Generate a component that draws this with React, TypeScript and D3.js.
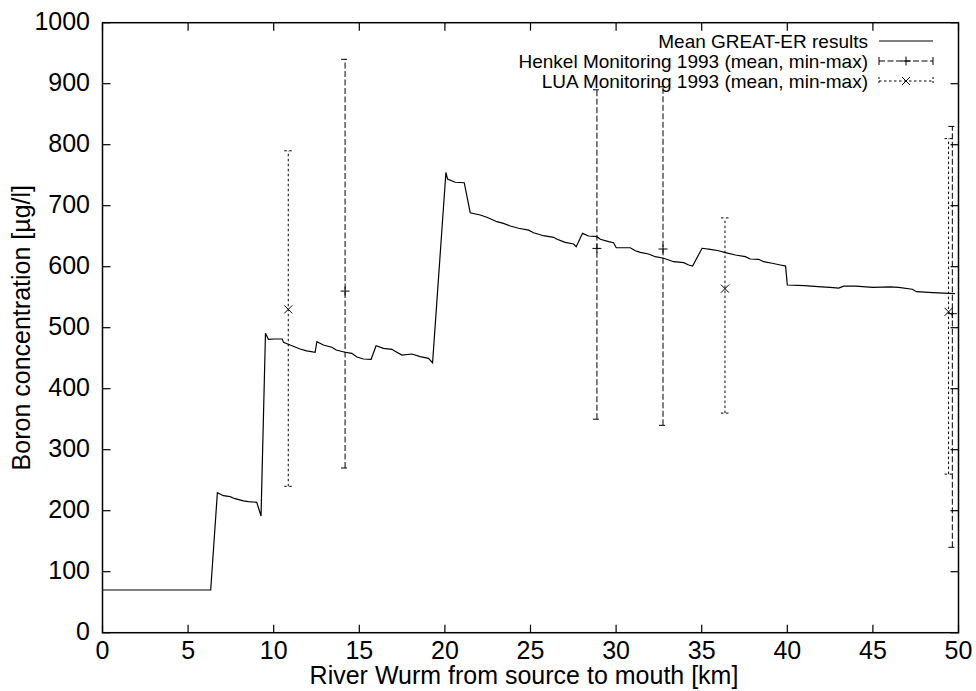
import React from "react";
import * as d3 from "d3";

const W = 976;
const H = 691;

const xTicks = [0, 5, 10, 15, 20, 25, 30, 35, 40, 45, 50];
const yTicks = [0, 100, 200, 300, 400, 500, 600, 700, 800, 900, 1000];

// Mean GREAT-ER results (km, µg/l)
const modelKm = [
  0, 6.32, 6.71, 7.06, 7.45, 7.74, 8.23, 8.52, 9.01, 9.26, 9.52, 9.69, 10.04, 10.5, 10.57, 10.96,
  11.54, 11.93, 12.42, 12.52, 12.9, 13.4, 13.65, 14.17, 14.56, 14.86, 15.24, 15.69, 15.98, 16.41,
  16.9, 17.14, 17.49, 18.07, 18.56, 19.04, 19.28, 20.06, 20.15, 20.6, 21.13, 21.48, 22.06, 22.45,
  23.04, 23.42, 23.82, 24.3, 24.89, 25.18, 25.76, 26.35, 26.55, 27.03, 27.52, 27.67, 28.04, 28.39,
  28.88, 29.08, 29.56, 29.85, 30.01, 30.83, 31.12, 31.41, 31.9, 32.29, 32.78, 33.36, 33.95, 34.24,
  34.47, 35.02, 35.51, 35.99, 36.38, 36.97, 37.55, 37.84, 38.33, 38.62, 39.11, 39.6, 39.9, 40.0,
  41, 42, 42.5, 43, 43.3, 44, 45, 46, 46.5, 47.3, 47.55, 48.5, 49.8,
];
const modelBoron = [
  70, 70, 229.5, 224.6, 223, 219.7, 216, 214.8, 213.8, 191.3, 490.8, 481, 481.5, 481.5, 476, 471.6,
  465, 462, 459.7, 477, 471.6, 468, 463.4, 459.7, 458, 452, 448.7, 448.2, 470.5, 466.2,
  464.6, 460.7, 455.2, 456.9, 452.5, 449.8, 442.6, 754.8, 743.8, 738.4, 737.7, 688.5, 684.8, 681,
  673.8, 671, 666.7, 663, 660, 655.7, 650.8, 648.2, 645, 640, 637.2, 632.8, 654.7, 650.3,
  649.2, 645, 641, 639.3, 631.1, 631.1, 626.2, 623.6, 620.8, 616.4, 613.8, 608.2, 606.6, 602.8,
  601.1, 630.2, 628.5, 626.2, 623, 619.2, 616.4, 612.6, 612.1, 608.2, 605.6, 602.8, 601, 570,
  569, 567, 566, 565, 568, 568, 566, 567, 566, 563, 559, 557.5, 556,
];

// Henkel Monitoring 1993
const henkelKm = [14.17, 28.88, 32.74, 49.64];
const henkelMean = [560, 630, 629, 523];
const henkelMin = [270, 350, 340, 140];
const henkelMax = [940, 890, 895, 830];

// LUA Monitoring 1993
const luaKm = [10.85, 36.36, 49.42];
const luaMean = [530, 564, 526];
const luaMin = [240, 360, 260];
const luaMax = [790, 680, 810];

const legendLabels = [
  "Mean GREAT-ER results",
  "Henkel Monitoring 1993 (mean, min-max)",
  "LUA Monitoring 1993 (mean, min-max)",
];

const FONT = "'Liberation Sans', Arial, Helvetica, sans-serif";
const HENKEL_DASH = "6,2.5";
const LUA_DASH = "2.5,2.5";

export default function App() {
  const left = 102.5, right = 958.5, top = 22.7, bottom = 632.7;
  const x = d3.scaleLinear().domain([0, 50]).range([left, right]);
  const y = d3.scaleLinear().domain([0, 1000]).range([bottom, top]);
  const tickLen = 8;
  const pts: [number, number][] = modelKm.map((k, i) => [k, modelBoron[i]]);
  const line = d3
    .line<[number, number]>()
    .x((d) => x(d[0]))
    .y((d) => y(d[1]));

  const capHalf = 4;
  const plus = (cx: number, cy: number, r = 4.5) => (
    <path d={`M${cx - r},${cy}H${cx + r}M${cx},${cy - r}V${cy + r}`} stroke="#000" strokeWidth={1} fill="none" />
  );
  const cross = (cx: number, cy: number, r = 4) => (
    <path d={`M${cx - r},${cy - r}L${cx + r},${cy + r}M${cx - r},${cy + r}L${cx + r},${cy - r}`} stroke="#000" strokeWidth={1} fill="none" />
  );

  const legX1 = 879, legX2 = 933, legTextX = 868;
  const legY = [41, 61, 81];

  return (
    <svg width={W} height={H} style={{ position: "absolute", left: 0, top: 0, background: "#fff" }} fontFamily={FONT}>
      <rect x={0} y={0} width={W} height={H} fill="#fff" />
      {/* ticks */}
      {xTicks.map((t) => (
        <g key={"xt" + t}>
          <line x1={x(t)} x2={x(t)} y1={bottom} y2={bottom - tickLen} stroke="#000" strokeWidth={1.2} />
          <line x1={x(t)} x2={x(t)} y1={top} y2={top + tickLen} stroke="#000" strokeWidth={1.2} />
          <text x={x(t)} y={bottom + 26.6} textAnchor="middle" fontSize={25} fill="#000">{t}</text>
        </g>
      ))}
      {yTicks.map((t) => (
        <g key={"yt" + t}>
          <line x1={left} x2={left + tickLen} y1={y(t)} y2={y(t)} stroke="#000" strokeWidth={1.2} />
          <line x1={right} x2={right - tickLen} y1={y(t)} y2={y(t)} stroke="#000" strokeWidth={1.2} />
          <text x={90} y={y(t) + 7} textAnchor="end" fontSize={25} fill="#000">{t}</text>
        </g>
      ))}
      {/* frame */}
      <rect x={left} y={top} width={right - left} height={bottom - top} fill="none" stroke="#000" strokeWidth={1.5} />

      {/* model line */}
      <path d={line(pts) || ""} fill="none" stroke="#000" strokeWidth={1.2} strokeLinejoin="miter" />

      {/* Henkel error bars */}
      {henkelKm.map((k, i) => {
        const cx = x(k);
        return (
          <g key={"h" + i}>
            <line x1={cx} x2={cx} y1={y(henkelMin[i])} y2={y(henkelMax[i])} stroke="#000" strokeWidth={1} strokeDasharray={HENKEL_DASH} />
            <line x1={cx - capHalf} x2={cx + capHalf} y1={y(henkelMin[i])} y2={y(henkelMin[i])} stroke="#000" strokeWidth={1} strokeDasharray={HENKEL_DASH} />
            <line x1={cx - capHalf} x2={cx + capHalf} y1={y(henkelMax[i])} y2={y(henkelMax[i])} stroke="#000" strokeWidth={1} strokeDasharray={HENKEL_DASH} />
            {plus(cx, y(henkelMean[i]))}
          </g>
        );
      })}
      {/* LUA error bars */}
      {luaKm.map((k, i) => {
        const cx = x(k);
        return (
          <g key={"l" + i}>
            <line x1={cx} x2={cx} y1={y(luaMin[i])} y2={y(luaMax[i])} stroke="#000" strokeWidth={1} strokeDasharray={LUA_DASH} />
            <line x1={cx - capHalf} x2={cx + capHalf} y1={y(luaMin[i])} y2={y(luaMin[i])} stroke="#000" strokeWidth={1} strokeDasharray={LUA_DASH} />
            <line x1={cx - capHalf} x2={cx + capHalf} y1={y(luaMax[i])} y2={y(luaMax[i])} stroke="#000" strokeWidth={1} strokeDasharray={LUA_DASH} />
            {cross(cx, y(luaMean[i]))}
          </g>
        );
      })}

      {/* legend */}
      {legendLabels.map((lab, i) => (
        <text key={"lg" + i} x={legTextX} y={legY[i] + 6.5} textAnchor="end" fontSize={19} fill="#000">{lab}</text>
      ))}
      <line x1={legX1} x2={legX2} y1={legY[0]} y2={legY[0]} stroke="#000" strokeWidth={1.2} />
      <g>
        <line x1={legX1} x2={legX2} y1={legY[1]} y2={legY[1]} stroke="#000" strokeWidth={1} strokeDasharray={HENKEL_DASH} />
        <line x1={legX1} x2={legX1} y1={legY[1] - capHalf} y2={legY[1] + capHalf} stroke="#000" strokeWidth={1} />
        <line x1={legX2} x2={legX2} y1={legY[1] - capHalf} y2={legY[1] + capHalf} stroke="#000" strokeWidth={1} />
        {plus((legX1 + legX2) / 2, legY[1])}
      </g>
      <g>
        <line x1={legX1} x2={legX2} y1={legY[2]} y2={legY[2]} stroke="#000" strokeWidth={1} strokeDasharray={LUA_DASH} />
        <line x1={legX1} x2={legX1} y1={legY[2] - capHalf} y2={legY[2] + capHalf} stroke="#000" strokeWidth={1} strokeDasharray="2,2" />
        <line x1={legX2} x2={legX2} y1={legY[2] - capHalf} y2={legY[2] + capHalf} stroke="#000" strokeWidth={1} strokeDasharray="2,2" />
        {cross((legX1 + legX2) / 2, legY[2])}
      </g>

      {/* axis labels */}
      <text x={524} y={684} textAnchor="middle" fontSize={25} fill="#000">River Wurm from source to mouth [km]</text>
      <text transform={`translate(30,${(top + bottom) / 2}) rotate(-90)`} textAnchor="middle" fontSize={25} fill="#000">Boron concentration [µg/l]</text>
    </svg>
  );
}
